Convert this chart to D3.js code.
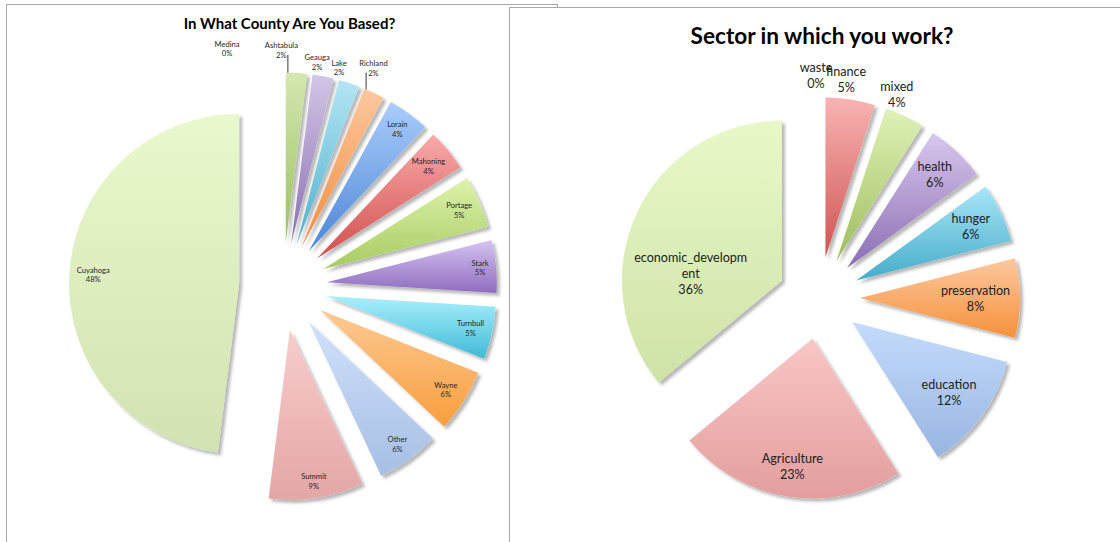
<!DOCTYPE html>
<html>
<head>
<meta charset="utf-8">
<script src="https://cdn.jsdelivr.net/npm/d3@7"></script>
<style>
  html, body { margin: 0; padding: 0; background: #fff; }
  svg { display: block; }
  text { font-family: Lato, "Open Sans", "Liberation Sans", sans-serif; }
</style>
</head>
<body>
<svg id="chart" width="1120" height="542"></svg>
<script>
// ---- data: county survey ----
const countyNames  = ["Ashtabula", "Geauga", "Lake", "Richland", "Lorain", "Mahoning", "Portage",
                      "Stark", "Turnbull", "Wayne", "Other", "Summit", "Cuyahoga", "Medina"];
const countyShares = [2, 2, 2, 2, 4, 4, 5, 5, 5, 6, 6, 9, 48, 0];
const countyTitle  = "In What County Are You Based?";

// ---- data: sector survey ----
const sectorNames  = ["waste", "finance", "mixed", "health", "hunger", "preservation",
                      "education", "Agriculture", "economic_development"];
const sectorShares = [0, 5, 4, 6, 6, 8, 12, 23, 36];
const sectorTitle  = "Sector in which you work?";

// ---- slice fills (top → bottom gradient stops) ----
const countyFills = [
  ["#d4e8b0", "#9cbf62"], ["#d2c6e6", "#8a6fb2"], ["#b4e6f4", "#4fb0cc"], ["#fdc8a0", "#f08c3c"],
  ["#aacdfb", "#4c86d6"], ["#f9aaaa", "#d0504e"], ["#dcf3aa", "#a8cb62"], ["#d6c4f2", "#8e6cbe"],
  ["#aaf0fd", "#3fbad6"], ["#fdca92", "#f89e3e"], ["#cfe0fa", "#a6bfe4"], ["#f9cccc", "#e4a6a6"],
  ["#e9f9cd", "#d2e2b2"], ["#9bbcea", "#4f81bd"]
];
const sectorFills = [
  ["#9bbcea", "#4f81bd"], ["#f8b4b2", "#cf5452"], ["#e0f2b8", "#9dbd5d"], ["#d8c8ee", "#8b6db2"],
  ["#a8e6f8", "#46acc8"], ["#fdc8a0", "#f5913a"], ["#c4dbfc", "#98b6e2"], ["#f9c6c6", "#e39e9e"],
  ["#e8f9c8", "#cfe2a6"]
];

// hand placement for crowded labels (label shift, optional leader side)
const countyLabelShift = {
  Medina:    { dx: -56, dy: -10 },
  Ashtabula: { dx: -16, dy: -8, leader: "right" },
  Geauga:    { dx: -9,  dy: 2 },
  Lake:      { dx: -15, dy: 0 },
  Richland:  { dx: -9,  dy: -7, leader: "left" }
};
const sectorLabelShift = {
  waste:   { dx: -3,  dy: -2 },
  finance: { dx: -8,  dy: 3 },
  mixed:   { dx: -19, dy: 2 },
  economic_development: { dx: -10, dy: 31 }
};

const svg = d3.select("#chart");
const defs = svg.append("defs");

// soft drop shadow under every slice
const sh = defs.append("filter").attr("id", "shadow")
  .attr("x", "-10%").attr("y", "-10%").attr("width", "125%").attr("height", "125%");
sh.append("feGaussianBlur").attr("in", "SourceAlpha").attr("stdDeviation", 1.8).attr("result", "blur");
sh.append("feOffset").attr("in", "blur").attr("dx", 2.5).attr("dy", 2.5).attr("result", "off");
sh.append("feFlood").attr("flood-color", "#000").attr("flood-opacity", 0.28).attr("result", "col");
sh.append("feComposite").attr("in", "col").attr("in2", "off").attr("operator", "in").attr("result", "shade");
const mg = sh.append("feMerge");
mg.append("feMergeNode").attr("in", "shade");
mg.append("feMergeNode").attr("in", "SourceGraphic");

// break words longer than maxChars, Excel-style
function wrapName(name, maxChars) {
  if (!maxChars || name.length <= maxChars) return [name];
  const out = [];
  for (let i = 0; i < name.length; i += maxChars) out.push(name.slice(i, i + maxChars));
  return out;
}

function angleOf(x, y) {
  let a = Math.atan2(x, -y);
  if (a < 0) a += 2 * Math.PI;
  return a;
}

function drawPie(g, cfg) {
  const items = cfg.names.map((n, i) => ({ name: n, value: cfg.values[i], fill: cfg.fills[i] }));
  const total = d3.sum(items, d => d.value);
  const arcs = d3.pie().sort(null).value(d => d.value)
    .startAngle(0).endAngle(2 * Math.PI)(items);
  const arc = d3.arc().innerRadius(0).outerRadius(cfg.r);

  arcs.forEach((a, i) => {
    a.mid = (a.startAngle + a.endAngle) / 2;
    a.dir = [Math.sin(a.mid), -Math.cos(a.mid)];
    a.vx = cfg.cx + cfg.explode * a.dir[0];
    a.vy = cfg.cy + cfg.explode * a.dir[1];
    a.grad = cfg.id + "-grad-" + i;
    const lg = defs.append("linearGradient").attr("id", a.grad)
      .attr("x1", 0).attr("y1", 0).attr("x2", 0).attr("y2", 1);
    lg.append("stop").attr("offset", 0).attr("stop-color", a.data.fill[0]);
    lg.append("stop").attr("offset", 1).attr("stop-color", a.data.fill[1]);
  });

  g.append("g").selectAll("path")
    .data(arcs.filter(a => a.value > 0))
    .join("path")
    .attr("transform", a => `translate(${a.vx},${a.vy})`)
    .attr("d", arc)
    .attr("fill", a => `url(#${a.grad})`)
    .attr("filter", "url(#shadow)");

  // data labels: inside end for the larger slices, outside end for the thin ones
  const lg = g.append("g").attr("fill", cfg.labelColor)
    .attr("font-size", cfg.labelSize).attr("text-anchor", "middle");
  const lh = cfg.lineHeight;

  arcs.forEach(a => {
    const lines = wrapName(a.data.name, cfg.wrapChars).concat([Math.round(a.value / total * 100) + "%"]);
    const t = lg.append("text");
    const spans = lines.map(l => t.append("tspan").text(l));
    const widths = spans.map(s => s.node().getComputedTextLength());
    const w = d3.max(widths) + 4, h = lines.length * lh;
    const [dx, dy] = a.dir;
    const shift = cfg.shift[a.data.name] || { dx: 0, dy: 0 };
    const inside = a.value >= cfg.insideMin;
    let px, py;
    if (inside) {
      const lim = cfg.r - cfg.labelPad;
      const far = s => Math.hypot(Math.abs(s * dx) + w / 2, Math.abs(s * dy) + h / 2);
      let lo = 0, hi = cfg.r;
      for (let k = 0; k < 40; k++) { const m = (lo + hi) / 2; if (far(m) <= lim) lo = m; else hi = m; }
      px = a.vx + lo * dx + shift.dx;
      py = a.vy + lo * dy + shift.dy;
    } else {
      const tOut = cfg.r + cfg.outsideGap + (w / 2 * Math.abs(dx) + h / 2 * Math.abs(dy));
      px = a.vx + tOut * dx + shift.dx;
      py = a.vy + tOut * dy + shift.dy;
    }
    const top = py - h / 2;
    spans.forEach((s, i) => s.attr("x", px).attr("y", top + lh * (i + 0.5) + cfg.labelSize * 0.36));

    if (!inside && shift.leader) {
      const last = widths[widths.length - 1];
      const ly = top + lh * (lines.length - 0.5);
      const sx = shift.leader === "right" ? px + last / 2 + 1.5 : px - last / 2 - 1.5;
      const margin = 0.6 * (a.endAngle - a.startAngle) / 2;
      let ang = angleOf(sx - a.vx, ly - a.vy);
      ang = Math.max(a.startAngle + margin * 0.3, Math.min(a.endAngle - margin * 0.3, ang));
      const ax = a.vx + cfg.r * Math.sin(ang), ay = a.vy - cfg.r * Math.cos(ang);
      g.append("path")
        .attr("d", d3.line()([[sx, ly], [ax, ly], [ax, ay]]))
        .attr("fill", "none").attr("stroke", "#222").attr("stroke-width", 0.9);
    }
  });

  g.append("text")
    .attr("x", cfg.titleX).attr("y", cfg.titleY)
    .attr("text-anchor", "middle").attr("font-weight", 700)
    .attr("font-size", cfg.titleSize).attr("fill", "#000")
    .text(cfg.title);
}

// ---- left panel ----
svg.append("rect").attr("x", 6.5).attr("y", 4.5).attr("width", 551).attr("height", 560)
  .attr("fill", "#fff").attr("stroke", "#a9a9a9").attr("stroke-width", 1);
const left = svg.append("g");
drawPie(left, {
  id: "county", names: countyNames, values: countyShares, fills: countyFills, title: countyTitle,
  cx: 283, cy: 286.5, r: 170, explode: 44,
  titleX: 289.5, titleY: 28.5, titleSize: 15,
  labelSize: 7.6, lineHeight: 9.5, labelColor: "#262626", labelPad: 4.5, outsideGap: 4,
  insideMin: 4, wrapChars: 0, shift: countyLabelShift
});

// ---- right panel ----
svg.append("rect").attr("x", 509.5).attr("y", 7.5).attr("width", 640).attr("height", 560)
  .attr("fill", "#fff").attr("stroke", "#a9a9a9").attr("stroke-width", 1);
const right = svg.append("g");
drawPie(right, {
  id: "sector", names: sectorNames, values: sectorShares, fills: sectorFills, title: sectorTitle,
  cx: 819, cy: 298, r: 160, explode: 41,
  titleX: 822, titleY: 44, titleSize: 22.6,
  labelSize: 12.6, lineHeight: 16, labelColor: "#222", labelPad: 7, outsideGap: 4,
  insideMin: 6, wrapChars: 17, shift: sectorLabelShift
});
</script>
</body>
</html>
